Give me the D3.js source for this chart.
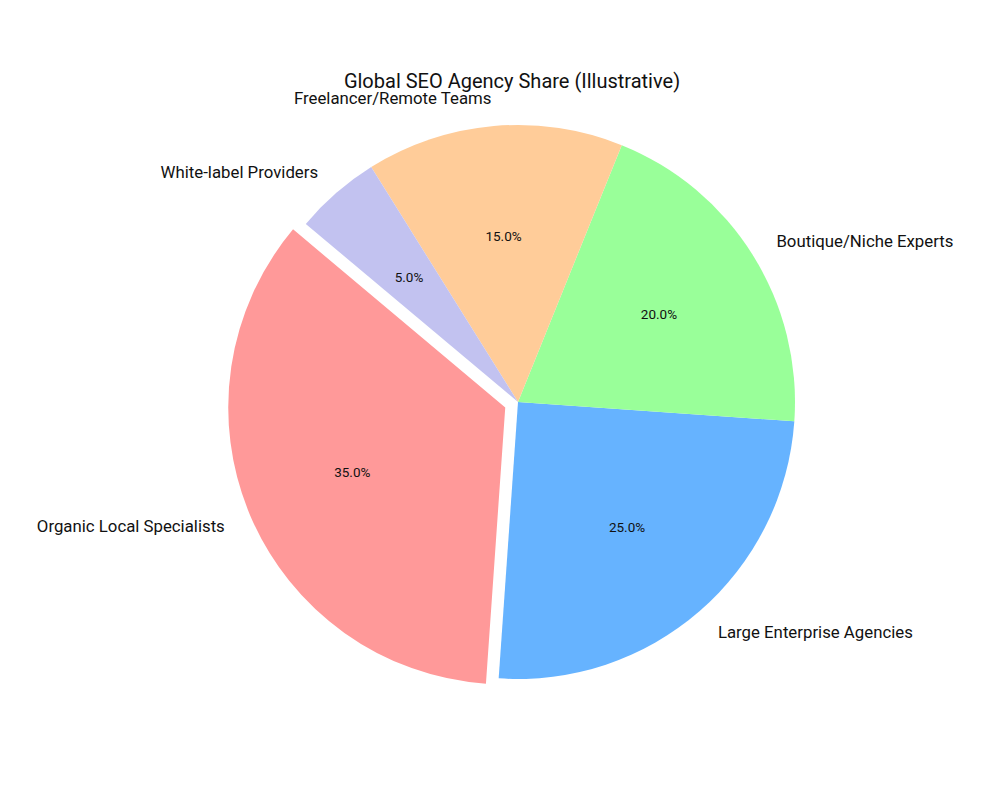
<!DOCTYPE html>
<html>
<head>
<meta charset="utf-8">
<script src="https://cdn.jsdelivr.net/npm/d3@7"></script>
<style>
  body { margin: 0; background: #fff; }
  text { font-family: Roboto, "Open Sans", sans-serif; fill: #111; }
</style>
</head>
<body>
<div id="chart"></div>
<script>
// data
const categories = ['Organic Local Specialists', 'Large Enterprise Agencies', 'Boutique/Niche Experts', 'Freelancer/Remote Teams', 'White-label Providers'];
const shares = [35, 25, 20, 15, 5];
const explode = [0.05, 0, 0, 0, 0];
const colors = ['#ff9999', '#66b3ff', '#99ff99', '#ffcc99', '#c2c2f0'];
const title = 'Global SEO Agency Share (Illustrative)';

const width = 1000, height = 800;
const cx = 518, cy = 402, radius = 277;
const startAngle = 140; // degrees, counterclockwise from 3 o'clock

const svg = d3.select('#chart').append('svg')
    .attr('width', width)
    .attr('height', height);

// matplotlib-style angles: counterclockwise, converted to d3 (clockwise from 12 o'clock)
const total = d3.sum(shares);
const toD3 = deg => (90 - deg) * Math.PI / 180;
let acc = startAngle;
const slices = shares.map((v, i) => {
    const a0 = acc, a1 = acc + v / total * 360;
    acc = a1;
    const mid = (a0 + a1) / 2 * Math.PI / 180;
    return { i, value: v, a0, a1, mid };
});

const arc = d3.arc().innerRadius(0).outerRadius(radius);

const g = svg.append('g').attr('transform', `translate(${cx},${cy})`);

const sliceG = g.selectAll('.slice')
    .data(slices)
    .join('g')
    .attr('class', 'slice')
    .attr('transform', d => {
        const e = explode[d.i] * radius;
        return `translate(${e * Math.cos(d.mid)},${-e * Math.sin(d.mid)})`;
    });

sliceG.append('path')
    .attr('d', d => arc({ startAngle: toD3(d.a1), endAngle: toD3(d.a0) }))
    .attr('fill', d => colors[d.i]);

// percentage labels
sliceG.append('text')
    .attr('x', d => 0.6 * radius * Math.cos(d.mid))
    .attr('y', d => -0.6 * radius * Math.sin(d.mid))
    .attr('text-anchor', 'middle')
    .attr('dominant-baseline', 'central')
    .style('font-size', '13.5px')
    .text(d => d3.format('.1f')(d.value / total * 100) + '%');

// category labels
sliceG.append('text')
    .attr('x', d => 1.1 * radius * Math.cos(d.mid))
    .attr('y', d => -1.1 * radius * Math.sin(d.mid))
    .attr('text-anchor', d => Math.cos(d.mid) < 0 ? 'end' : 'start')
    .attr('dominant-baseline', 'central')
    .style('font-size', '16.8px')
    .text(d => categories[d.i]);

svg.append('text')
    .attr('x', 512)
    .attr('y', 88)
    .attr('text-anchor', 'middle')
    .style('font-size', '20px')
    .text(title);
</script>
</body>
</html>
